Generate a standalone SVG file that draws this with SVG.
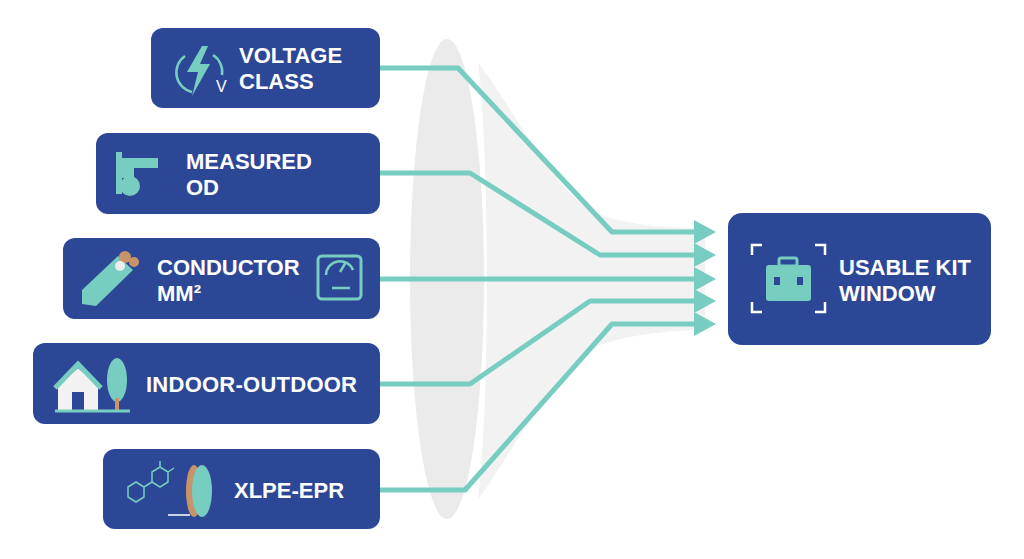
<svg xmlns="http://www.w3.org/2000/svg" width="1024" height="559" viewBox="0 0 1024 559">
<style>
.box{fill:#2d4797;}
.t{font-family:"Liberation Sans",Arial,sans-serif;font-weight:bold;font-size:22px;fill:#fff;}
.c{fill:none;stroke:#76cdc0;stroke-width:5;stroke-linejoin:round;}
.tl{fill:#76cdc0;}
.ic{fill:none;stroke:#76cdc0;stroke-width:2.5;}
</style>
<rect width="1024" height="559" fill="#fff"/>
<g id="lens">
<path d="M478 62 C520 120 560 200 600 215 C640 228 680 228 705 228 L705 330 C680 330 640 332 600 345 C560 360 520 440 478 500 C490 400 490 160 478 62Z" fill="#f2f2f2"/>
<ellipse cx="447" cy="279" rx="37" ry="240" fill="#ebebeb"/>
</g>
<g id="connectors">
<path class="c" d="M380 68 H458 L612 232 H700"/>
<path class="c" d="M380 173 H470 L600 255 H700"/>
<path class="c" d="M380 279 H700"/>
<path class="c" d="M380 384 H470 L590 301 H700"/>
<path class="c" d="M380 490 H465 L612 324 H700"/>
<g class="tl">
<polygon points="694,220 716,232 694,244"/>
<polygon points="694,243 716,255 694,267"/>
<polygon points="694,267 716,279 694,291"/>
<polygon points="694,289 716,301 694,313"/>
<polygon points="694,312 716,324 694,336"/>
</g>
</g>
<g id="n1">
<rect class="box" x="151" y="28" width="229" height="80" rx="12"/>
<path class="ic" d="M185 56 A20 20 0 0 0 192 92 M213 55 A20 20 0 0 1 222 75"/>
<path class="tl" d="M202 46 L187 72 H198 L192 96 L210 64 H200 L208 46Z"/>
<text x="216" y="92" fill="#fff" font-family="Liberation Sans,sans-serif" font-size="16">V</text>
<text class="t" x="239" y="63">VOLTAGE</text>
<text class="t" x="239" y="89">CLASS</text>
</g>
<g id="n2">
<rect class="box" x="96" y="133" width="284" height="81" rx="12"/>
<path class="tl" d="M116 152 h6 v6 h36 v10 h-24 v10 h-12 v16 h-6Z"/>
<circle class="tl" cx="130" cy="186" r="10"/>
<text class="t" x="186" y="169">MEASURED</text>
<text class="t" x="186" y="195">OD</text>
</g>
<g id="n3">
<rect class="box" x="63" y="238" width="317" height="81" rx="12"/>
<path class="tl" d="M82 304 L82 290 L118 256 L133 270 L96 306Z"/>
<circle cx="125" cy="257" r="6" fill="#c9936a"/>
<circle cx="134" cy="262" r="5" fill="#c9936a"/>
<circle cx="120" cy="266" r="5" fill="#eee"/>
<text class="t" x="157" y="275">CONDUCTOR</text>
<text class="t" x="157" y="301">MM²</text>
<rect x="318" y="256" width="43" height="43" rx="4" fill="none" stroke="#76cdc0" stroke-width="3"/>
<path class="ic" d="M326 275 A14 14 0 0 1 353 270 M340 272 L346 262 M332 288 H350"/>
</g>
<g id="n4">
<rect class="box" x="33" y="343" width="347" height="81" rx="12"/>
<path d="M58 410 V386 L78 368 L98 386 V410Z" fill="#f2f2f2"/>
<rect x="72" y="392" width="12" height="18" fill="#2d4797"/>
<path d="M55 388 L78 364 L101 388" fill="none" stroke="#76cdc0" stroke-width="5"/>
<ellipse class="tl" cx="117" cy="380" rx="10" ry="22"/>
<rect x="115" y="398" width="4" height="12" fill="#c9936a"/>
<path d="M55 411 H130" stroke="#76cdc0" stroke-width="3"/>
<text class="t" x="146" y="392" textLength="211">INDOOR-OUTDOOR</text>
</g>
<g id="n5">
<rect class="box" x="103" y="449" width="277" height="80" rx="12"/>
<path class="ic" style="stroke-width:1.5" d="M128 487 l8 -5 l8 5 v10 l-8 5 l-8 -5Z M144 487 l8 -5 M152 472 l8 -5 l8 5 v10 l-8 5 l-8 -5Z M168 472 l6 -4 M160 467 v-6"/>
<path d="M168 515 h22" stroke="#fff" stroke-width="1.5"/>
<ellipse cx="194" cy="491" rx="8" ry="26" fill="#c9936a"/>
<ellipse cx="202" cy="491" rx="10" ry="26" fill="#76cdc0"/>
<text class="t" x="234" y="498">XLPE-EPR</text>
</g>
<g id="n6">
<rect class="box" x="728" y="213" width="263" height="132" rx="14"/>
<path d="M752 255 V245 H762 M815 245 H825 V255 M752 302 V312 H762 M815 312 H825 V302" fill="none" stroke="#fff" stroke-width="2.5"/>
<rect x="779" y="258" width="18" height="8" rx="2" fill="none" stroke="#76cdc0" stroke-width="3"/>
<rect class="tl" x="766" y="265" width="45" height="36" rx="3"/>
<rect x="774" y="277" width="6" height="8" fill="#2d4797"/>
<rect x="797" y="277" width="6" height="8" fill="#2d4797"/>
<text class="t" x="839" y="275">USABLE KIT</text>
<text class="t" x="839" y="301">WINDOW</text>
</g>
</svg>
